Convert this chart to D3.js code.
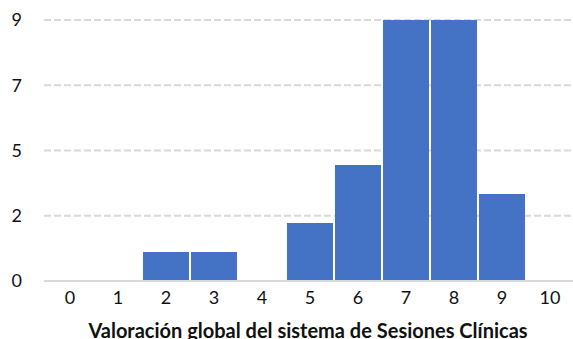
<!DOCTYPE html>
<html>
<head>
<meta charset="utf-8">
<script src="https://cdn.jsdelivr.net/npm/d3@7"></script>
<style>
  body { margin: 0; background: #fff; }
  svg { display: block; font-family: Lato, "Open Sans", sans-serif; }
</style>
</head>
<body>
<div id="chart"></div>
<script>
// scores 0..10 and number of answers
const categories = ['0', '1', '2', '3', '4', '5', '6', '7', '8', '9', '10'];
const counts = [0, 0, 1, 1, 0, 2, 4, 9, 9, 3, 0];
const yTicks = [0, 2.25, 4.5, 6.75, 9];
const xTitle = 'Valoración global del sistema de Sesiones Clínicas';

const width = 573;
const height = 339;

const svg = d3.select('#chart')
  .append('svg')
  .attr('width', width)
  .attr('height', height);

const x = d3.scaleBand()
  .domain(categories)
  .range([46, 574])
  .paddingInner(0)
  .paddingOuter(0);

const y = d3.scaleLinear()
  .domain([0, 9])
  .range([281, 20]);

// dashed gridlines
svg.append('g')
  .selectAll('line')
  .data(yTicks.slice(1))
  .enter()
  .append('line')
  .attr('x1', 44)
  .attr('x2', 573)
  .attr('y1', d => y(d))
  .attr('y2', d => y(d))
  .attr('stroke', '#d9d9d9')
  .attr('stroke-width', 2)
  .attr('stroke-dasharray', '7,3');

// bars
svg.append('g')
  .selectAll('rect')
  .data(counts)
  .enter()
  .append('rect')
  .attr('x', (d, i) => x(categories[i]) + 1)
  .attr('width', x.bandwidth() - 2)
  .attr('y', d => y(d))
  .attr('height', d => y(0) - y(d))
  .attr('fill', '#4472c4');

// baseline
svg.append('line')
  .attr('x1', 44)
  .attr('x2', 573)
  .attr('y1', y(0))
  .attr('y2', y(0))
  .attr('stroke', '#d9d9d9')
  .attr('stroke-width', 2);

// y axis labels
const yAxis = d3.axisLeft(y)
  .tickValues(yTicks)
  .tickFormat(d => Math.round(d))
  .tickSize(0)
  .tickPadding(0);

svg.append('g')
  .attr('transform', 'translate(22,0)')
  .call(yAxis)
  .call(g => g.select('.domain').remove())
  .selectAll('text')
  .attr('font-size', 18)
  .attr('font-family', 'Lato, sans-serif')
  .attr('fill', '#111');

// x axis labels
const xAxis = d3.axisBottom(x)
  .tickSize(0)
  .tickPadding(10);

svg.append('g')
  .attr('transform', `translate(0,${y(0)})`)
  .call(xAxis)
  .call(g => g.select('.domain').remove())
  .selectAll('text')
  .attr('font-size', 18)
  .attr('font-family', 'Lato, sans-serif')
  .attr('fill', '#111');

// axis title
svg.append('text')
  .attr('x', 308)
  .attr('y', 338)
  .attr('text-anchor', 'middle')
  .attr('font-size', 20)
  .attr('font-weight', 'bold')
  .attr('fill', '#111')
  .text(xTitle);
</script>
</body>
</html>
